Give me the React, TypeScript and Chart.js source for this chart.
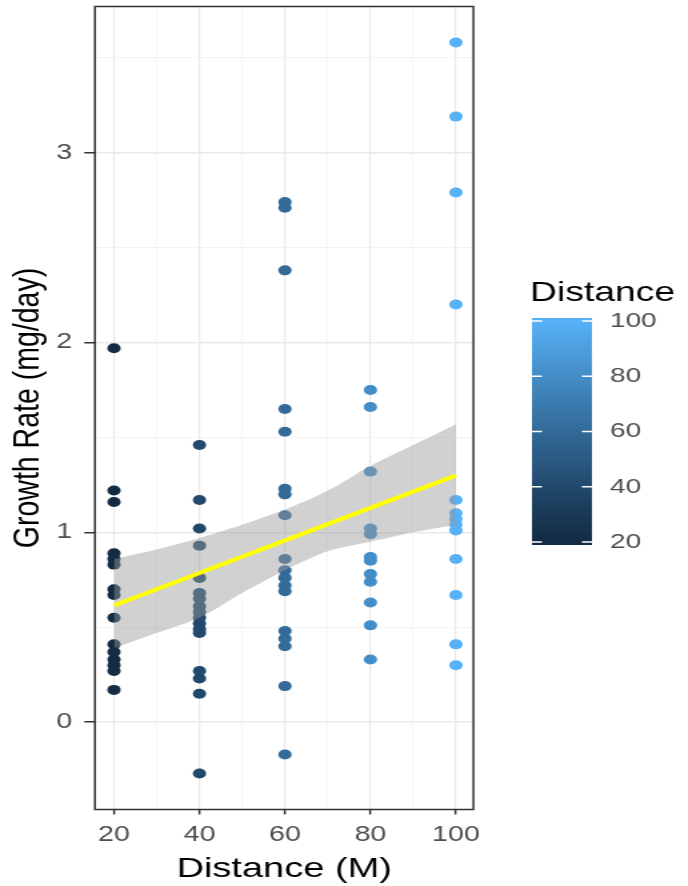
import React, { useEffect, useRef } from "react";
import { Chart, registerables } from "chart.js";

Chart.register(...registerables);

// ---- data ----
const DIST_20 = [1.97, 1.22, 1.16, 0.89, 0.86, 0.83, 0.70, 0.67, 0.55, 0.41, 0.37, 0.33, 0.30, 0.27, 0.17];
const DIST_40 = [1.46, 1.17, 1.02, 0.93, 0.76, 0.68, 0.65, 0.61, 0.58, 0.55, 0.52, 0.49, 0.47, 0.27, 0.23, 0.15, -0.27];
const DIST_60 = [2.74, 2.71, 2.38, 1.65, 1.53, 1.23, 1.20, 1.09, 0.86, 0.80, 0.76, 0.72, 0.69, 0.48, 0.44, 0.40, 0.19, -0.17];
const DIST_80 = [1.75, 1.66, 1.32, 1.02, 0.99, 0.87, 0.85, 0.78, 0.74, 0.63, 0.51, 0.33];
const DIST_100 = [3.58, 3.19, 2.79, 2.20, 1.17, 1.10, 1.07, 1.04, 1.01, 0.86, 0.67, 0.41, 0.30];
const DISTANCES = [20, 40, 60, 80, 100];

const FIT_X = [20, 100];
const FIT_Y = [0.615, 1.30];

const BAND_X = [20, 30, 40, 50, 60, 70, 80, 90, 100];
const BAND_UPPER = [0.86, 0.91, 0.97, 1.04, 1.12, 1.22, 1.35, 1.46, 1.57];
const BAND_LOWER = [0.39, 0.47, 0.55, 0.68, 0.80, 0.90, 0.95, 1.00, 1.04];

const X_GRID = [20, 30, 40, 50, 60, 70, 80, 90, 100];
const X_LABELS = [20, 40, 60, 80, 100];
const Y_GRID = [0, 0.5, 1, 1.5, 2, 2.5, 3, 3.5];
const Y_LABELS = [0, 1, 2, 3];

const LEGEND_TICKS = [20, 40, 60, 80, 100];
const LEGEND_MIN = 20;
const LEGEND_MAX = 100;

const X_TITLE = "Distance (M)";
const Y_TITLE = "Growth Rate (mg/day)";
const LEGEND_TITLE = "Distance";

// ---- colour helpers (CIELAB ramp like ggplot) ----
const LOW = "#132B43";
const HIGH = "#56B1F7";
const hexToRgb = (h: string) => [1, 3, 5].map((i) => parseInt(h.slice(i, i + 2), 16));
const lin = (c: number) => {
  c /= 255;
  return c <= 0.04045 ? c / 12.92 : Math.pow((c + 0.055) / 1.055, 2.4);
};
const gam = (c: number) => {
  const v = c <= 0.0031308 ? 12.92 * c : 1.055 * Math.pow(c, 1 / 2.4) - 0.055;
  return Math.round(Math.max(0, Math.min(1, v)) * 255);
};
const rgbToLab = (rgb: number[]) => {
  const [R, G, B] = rgb.map(lin);
  const X = (0.4124564 * R + 0.3575761 * G + 0.1804375 * B) / 0.95047;
  const Y = 0.2126729 * R + 0.7151522 * G + 0.072175 * B;
  const Z = (0.0193339 * R + 0.119192 * G + 0.9503041 * B) / 1.08883;
  const f = (t: number) => (t > 0.008856 ? Math.cbrt(t) : 7.787 * t + 16 / 116);
  const fx = f(X), fy = f(Y), fz = f(Z);
  return [116 * fy - 16, 500 * (fx - fy), 200 * (fy - fz)];
};
const labToRgb = (lab: number[]) => {
  const [L, a, b] = lab;
  const fy = (L + 16) / 116;
  const fx = fy + a / 500;
  const fz = fy - b / 200;
  const finv = (t: number) => (t * t * t > 0.008856 ? t * t * t : (t - 16 / 116) / 7.787);
  const X = finv(fx) * 0.95047, Y = finv(fy), Z = finv(fz) * 1.08883;
  const R = 3.2404542 * X - 1.5371385 * Y - 0.4985314 * Z;
  const G = -0.969266 * X + 1.8760108 * Y + 0.041556 * Z;
  const B = 0.0556434 * X - 0.2040259 * Y + 1.0572252 * Z;
  return [gam(R), gam(G), gam(B)];
};
const LAB_LOW = rgbToLab(hexToRgb(LOW));
const LAB_HIGH = rgbToLab(hexToRgb(HIGH));
const colorAt = (v: number) => {
  const t = Math.max(0, Math.min(1, (v - LEGEND_MIN) / (LEGEND_MAX - LEGEND_MIN)));
  const lab = LAB_LOW.map((l, i) => l + (LAB_HIGH[i] - l) * t);
  const [r, g, b] = labToRgb(lab);
  return `rgb(${r},${g},${b})`;
};

// ---- layout (logical canvas px; canvas is stretched horizontally) ----
const CW = 516;
const CH = 886;
const FONT = "'Liberation Sans', Arial, sans-serif";

const zeroPad = (s: any) => {
  s.paddingTop = 0;
  s.paddingBottom = 0;
  s.paddingLeft = 0;
  s.paddingRight = 0;
};

const panelBorder = {
  id: "panelBorder",
  afterDatasetsDraw(chart: any) {
    const { ctx, chartArea: a } = chart;
    ctx.save();
    ctx.strokeStyle = "#333333";
    ctx.lineWidth = 1.5;
    ctx.strokeRect(a.left, a.top, a.right - a.left, a.bottom - a.top);
    ctx.restore();
  },
};

const colorLegend = {
  id: "colorLegend",
  afterDraw(chart: any) {
    const ctx = chart.ctx;
    const left = 399, right = 444, top = 318, bottom = 545;
    const tTop = 321, tBottom = 542;
    ctx.save();
    ctx.fillStyle = "#000000";
    ctx.font = `28px ${FONT}`;
    ctx.textAlign = "left";
    ctx.textBaseline = "middle";
    ctx.fillText(LEGEND_TITLE, 397.5, 293);
    const grad = ctx.createLinearGradient(0, tBottom, 0, tTop);
    for (let i = 0; i <= 20; i++) {
      const v = LEGEND_MIN + ((LEGEND_MAX - LEGEND_MIN) * i) / 20;
      grad.addColorStop(i / 20, colorAt(v));
    }
    ctx.fillStyle = grad;
    ctx.fillRect(left, top, right - left, bottom - top);
    ctx.strokeStyle = "#FFFFFF";
    ctx.lineWidth = 1.5;
    ctx.fillStyle = "#4D4D4D";
    ctx.font = `21px ${FONT}`;
    for (const v of LEGEND_TICKS) {
      const y = tBottom - ((v - LEGEND_MIN) / (LEGEND_MAX - LEGEND_MIN)) * (tBottom - tTop);
      ctx.beginPath();
      ctx.moveTo(left, y);
      ctx.lineTo(left + 7.5, y);
      ctx.moveTo(right - 7.5, y);
      ctx.lineTo(right, y);
      ctx.stroke();
      ctx.fillText(String(v), 457.5, y);
    }
    ctx.restore();
  },
};

export default function App() {
  const ref = useRef<HTMLCanvasElement | null>(null);

  useEffect(() => {
    const canvas = ref.current;
    if (!canvas) return;
    const groups = [DIST_20, DIST_40, DIST_60, DIST_80, DIST_100];
    const pts: { x: number; y: number }[] = [];
    const cols: string[] = [];
    groups.forEach((vals, gi) => {
      vals.forEach((v) => {
        pts.push({ x: DISTANCES[gi], y: v });
        cols.push(colorAt(DISTANCES[gi]));
      });
    });

    const chart = new Chart(canvas, {
      type: "scatter",
      data: {
        datasets: [
          {
            type: "line",
            data: BAND_X.map((x, i) => ({ x, y: BAND_UPPER[i] })),
            borderWidth: 0,
            borderColor: "rgba(0,0,0,0)",
            backgroundColor: "rgba(153,153,153,0.45)",
            pointRadius: 0,
            fill: "+1",
            tension: 0.3,
            order: 5,
          } as any,
          {
            type: "line",
            data: BAND_X.map((x, i) => ({ x, y: BAND_LOWER[i] })),
            borderWidth: 0,
            borderColor: "rgba(0,0,0,0)",
            pointRadius: 0,
            fill: false,
            tension: 0.3,
            order: 6,
          } as any,
          {
            type: "line",
            data: FIT_X.map((x, i) => ({ x, y: FIT_Y[i] })),
            borderColor: "#FFFF00",
            borderWidth: 4,
            pointRadius: 0,
            fill: false,
            order: 1,
          } as any,
          {
            type: "scatter",
            data: pts,
            pointRadius: 5,
            pointBorderWidth: 0,
            pointBackgroundColor: cols,
            pointBorderColor: cols,
            order: 10,
          } as any,
        ],
      },
      options: {
        responsive: false,
        animation: false,
        devicePixelRatio: 1,
        layout: { padding: { left: 0, top: 6.5, right: CW - 355.1, bottom: 0 } },
        plugins: { legend: { display: false }, tooltip: { enabled: false } },
        scales: {
          x: {
            type: "linear",
            min: 15.55,
            max: 104.1,
            afterBuildTicks: (s: any) => {
              s.ticks = X_GRID.map((v) => ({ value: v }));
            },
            afterFit: (s: any) => {
              s.height = 76.5;
              zeroPad(s);
            },
            ticks: {
              autoSkip: false,
              maxRotation: 0,
              padding: 8,
              color: "#4D4D4D",
              font: { family: FONT, size: 21.5 },
              callback: (v: any) => (X_LABELS.includes(Number(v)) ? String(v) : ""),
            },
            grid: {
              color: (c: any) => (X_LABELS.includes(c.tick?.value) ? "#E9E9E9" : "#F2F2F2"),
              lineWidth: (c: any) => (X_LABELS.includes(c.tick?.value) ? 1.2 : 0.7),
              tickColor: (c: any) => (X_LABELS.includes(c.tick?.value) ? "#333333" : "rgba(0,0,0,0)"),
              tickLength: 5,
              tickWidth: 1.5,
            },
            border: { display: false },
            title: {
              display: true,
              text: X_TITLE,
              color: "#000000",
              font: { family: FONT, size: 28.5 },
              padding: { top: 0, bottom: 0 },
            },
          },
          y: {
            type: "linear",
            min: -0.46,
            max: 3.77,
            afterBuildTicks: (s: any) => {
              s.ticks = Y_GRID.map((v) => ({ value: v }));
            },
            afterFit: (s: any) => {
              s.width = 71.25;
              zeroPad(s);
            },
            ticks: {
              autoSkip: false,
              padding: 9,
              color: "#4D4D4D",
              font: { family: FONT, size: 21.5 },
              callback: (v: any) => (Y_LABELS.includes(Number(v)) ? String(v) : ""),
            },
            grid: {
              color: (c: any) => (Y_LABELS.includes(c.tick?.value) ? "#E9E9E9" : "#F2F2F2"),
              lineWidth: (c: any) => (Y_LABELS.includes(c.tick?.value) ? 1.5 : 0.9),
              tickColor: (c: any) => (Y_LABELS.includes(c.tick?.value) ? "#333333" : "rgba(0,0,0,0)"),
              tickLength: 8,
              tickWidth: 1.5,
            },
            border: { display: false },
            title: {
              display: true,
              text: Y_TITLE,
              color: "#000000",
              font: { family: FONT, size: 28.5 },
              padding: { top: 4, bottom: 0 },
            },
          },
        },
      } as any,
      plugins: [panelBorder, colorLegend],
    });
    return () => chart.destroy();
  }, []);

  return (
    <div style={{ position: "absolute", left: 0, top: 0, width: 688, height: 886, background: "#FFFFFF" }}>
      <canvas
        ref={ref}
        width={CW}
        height={CH}
        style={{ width: "688px", height: "886px", display: "block" }}
      />
    </div>
  );
}
